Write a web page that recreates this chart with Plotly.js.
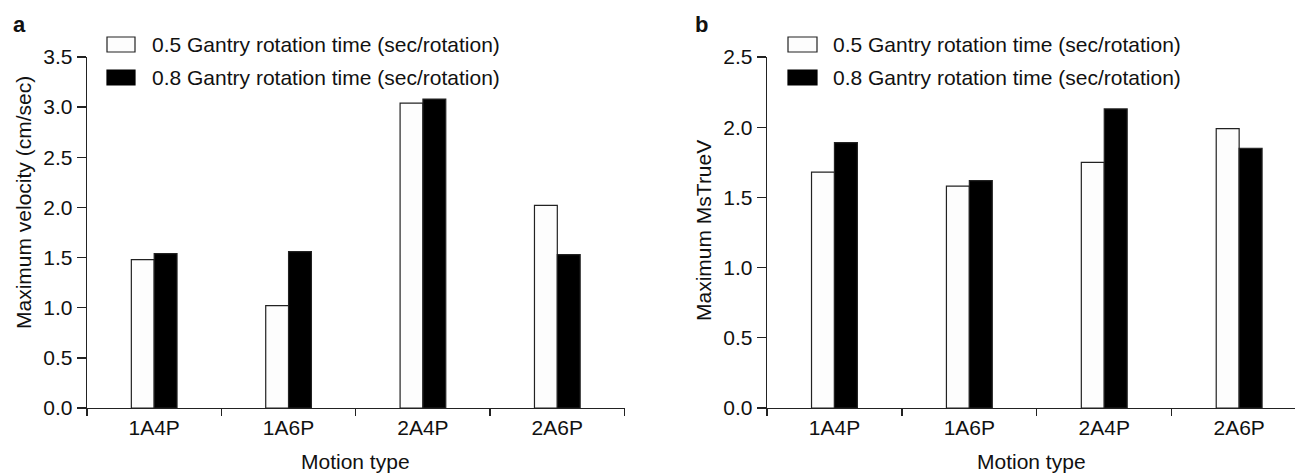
<!DOCTYPE html>
<html>
<head>
<meta charset="utf-8">
<script src="https://cdn.plot.ly/plotly-3.0.1.min.js"></script>
<style>html,body{margin:0;padding:0;background:#fff;}#chart{width:1295px;height:475px;}</style>
</head>
<body>
<div id="chart"></div>
<script>
// ---- data ----
const categories = ['1A4P', '1A6P', '2A4P', '2A6P'];
const seriesNames = ['0.5 Gantry rotation time (sec/rotation)', '0.8 Gantry rotation time (sec/rotation)'];
const velocity05 = [1.48, 1.02, 3.04, 2.02];
const velocity08 = [1.54, 1.56, 3.08, 1.53];
const msTrueV05 = [1.68, 1.58, 1.75, 1.99];
const msTrueV08 = [1.89, 1.62, 2.13, 1.85];
const velocityTicks = [0, 0.5, 1.0, 1.5, 2.0, 2.5, 3.0, 3.5];
const msTrueVTicks = [0, 0.5, 1.0, 1.5, 2.0, 2.5];

// ---- helpers (pixel -> paper) ----
const W = 1295, H = 475;
const px = x => x / W;
const py = y => 1 - y / H;

const FONT = 'Liberation Sans, Arial, Helvetica, sans-serif';
const LINE = '#222';
const FS = 21;

function bar(x, y, fill, xa, ya) {
  return {
    type: 'bar', x: x, y: y, xaxis: xa, yaxis: ya,
    marker: {color: fill, line: {color: LINE, width: 1.2}},
    showlegend: false, hoverinfo: 'x+y'
  };
}

const data = [
  bar(categories, velocity05, '#fdfdfd', 'x', 'y'),
  bar(categories, velocity08, '#000000', 'x', 'y'),
  bar(categories, msTrueV05, '#fdfdfd', 'x2', 'y2'),
  bar(categories, msTrueV08, '#000000', 'x2', 'y2')
];

const xCommon = {
  type: 'category', tickson: 'boundaries', ticks: 'outside', ticklen: 7,
  tickwidth: 1.3, tickcolor: LINE, showline: true, linecolor: LINE, linewidth: 1.3,
  showgrid: false, zeroline: false, tickfont: {family: FONT, size: FS, color: '#111'},
  fixedrange: true
};
const yCommon = {
  ticks: 'outside', ticklen: 9, tickwidth: 1.3, tickcolor: LINE,
  showline: true, linecolor: LINE, linewidth: 1.3, showgrid: false, zeroline: false,
  tickformat: '.1f', tickfont: {family: FONT, size: FS, color: '#111'},
  domain: [py(408), py(57)], fixedrange: true
};

const plotTop = 57, plotBottom = 408;
const leftX0 = 87, leftX1 = 624.5, rightX0 = 767, catW = 134.9;
const rightEnd = -0.5 + (W - rightX0) / catW;

const layout = {
  width: W, height: H,
  margin: {l: 0, r: 0, t: 0, b: 0},
  paper_bgcolor: '#fff', plot_bgcolor: '#fff',
  barmode: 'group', bargap: 0.66, bargroupgap: 0,
  font: {family: FONT, size: FS, color: '#111'},
  xaxis: Object.assign({}, xCommon, {domain: [px(leftX0), px(leftX1)], range: [-0.5, 3.5], anchor: 'y'}),
  yaxis: Object.assign({}, yCommon, {range: [0, 3.5], tickvals: velocityTicks, anchor: 'x'}),
  xaxis2: Object.assign({}, xCommon, {domain: [px(rightX0), 1], range: [-0.5, rightEnd], anchor: 'y2'}),
  yaxis2: Object.assign({}, yCommon, {range: [0, 2.5], tickvals: msTrueVTicks, anchor: 'x2'}),
  shapes: [
    {type: 'rect', xref: 'paper', yref: 'paper', x0: px(107), x1: px(135), y0: py(52), y1: py(37), fillcolor: '#fdfdfd', line: {color: LINE, width: 1.2}},
    {type: 'rect', xref: 'paper', yref: 'paper', x0: px(107), x1: px(135), y0: py(85), y1: py(70), fillcolor: '#000', line: {color: '#000', width: 1.2}},
    {type: 'rect', xref: 'paper', yref: 'paper', x0: px(788), x1: px(817), y0: py(52), y1: py(37), fillcolor: '#fdfdfd', line: {color: LINE, width: 1.2}},
    {type: 'rect', xref: 'paper', yref: 'paper', x0: px(788), x1: px(817), y0: py(85), y1: py(70), fillcolor: '#000', line: {color: '#000', width: 1.2}}
  ],
  annotations: [
    {text: '<b>a</b>', xref: 'paper', yref: 'paper', x: px(19), y: py(25), xanchor: 'center', yanchor: 'middle', showarrow: false, font: {size: 22}},
    {text: '<b>b</b>', xref: 'paper', yref: 'paper', x: px(701), y: py(25), xanchor: 'center', yanchor: 'middle', showarrow: false, font: {size: 22}},
    {text: seriesNames[0], xref: 'paper', yref: 'paper', x: px(150), y: py(45), xanchor: 'left', yanchor: 'middle', showarrow: false},
    {text: seriesNames[1], xref: 'paper', yref: 'paper', x: px(150), y: py(77), xanchor: 'left', yanchor: 'middle', showarrow: false},
    {text: seriesNames[0], xref: 'paper', yref: 'paper', x: px(831), y: py(45), xanchor: 'left', yanchor: 'middle', showarrow: false},
    {text: seriesNames[1], xref: 'paper', yref: 'paper', x: px(831), y: py(77), xanchor: 'left', yanchor: 'middle', showarrow: false},
    {text: 'Maximum velocity (cm/sec)', xref: 'paper', yref: 'paper', x: px(23), y: py(203), xanchor: 'center', yanchor: 'middle', textangle: -90, showarrow: false},
    {text: 'Maximum MsTrueV', xref: 'paper', yref: 'paper', x: px(703), y: py(231), xanchor: 'center', yanchor: 'middle', textangle: -90, showarrow: false},
    {text: 'Motion type', xref: 'paper', yref: 'paper', x: px(355), y: py(461), xanchor: 'center', yanchor: 'middle', showarrow: false},
    {text: 'Motion type', xref: 'paper', yref: 'paper', x: px(1031), y: py(461), xanchor: 'center', yanchor: 'middle', showarrow: false}
  ]
};

Plotly.newPlot('chart', data, layout, {staticPlot: true, displayModeBar: false});
</script>
</body>
</html>
